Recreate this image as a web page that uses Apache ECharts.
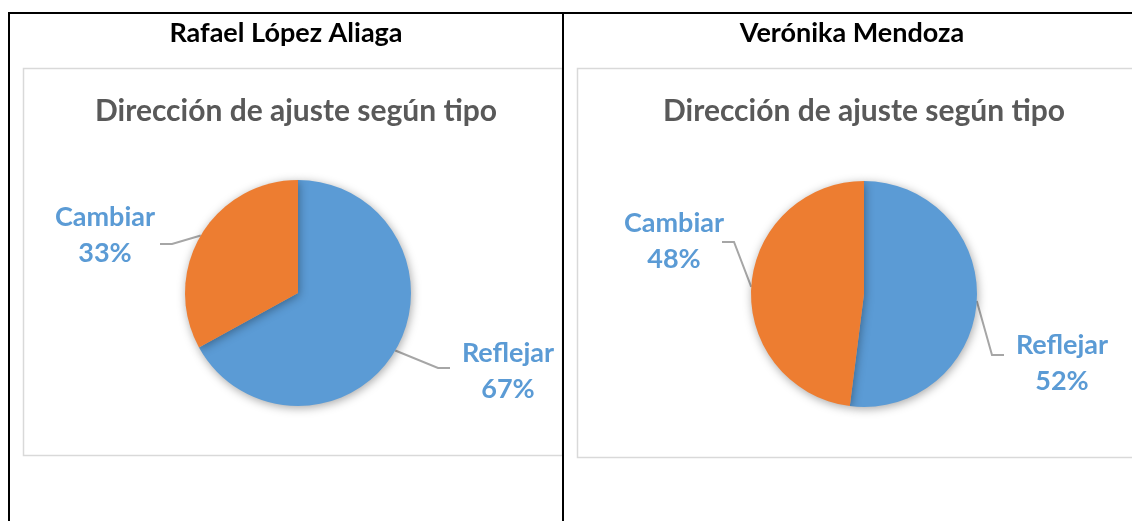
<!DOCTYPE html>
<html>
<head>
<meta charset="utf-8">
<script src="https://cdn.jsdelivr.net/npm/echarts@6/dist/echarts.min.js"></script>
<style>
  html, body { margin: 0; padding: 0; background: #ffffff; }
  #chart { width: 1132px; height: 521px; }
</style>
</head>
<body>
<div id="chart"></div>
<script>
// ---- data ----
const candidates = ['Rafael López Aliaga', 'Verónika Mendoza'];
const chartTitle = 'Dirección de ajuste según tipo';
const categories = ['Reflejar', 'Cambiar'];
const lopezAliagaValues = [67, 33];
const mendozaValues = [52, 48];

// ---- layout ----
const FONT = 'Lato, "Open Sans", sans-serif';
const BLUE = '#5B9BD5';
const ORANGE = '#ED7D31';
const panels = [
  { cx: 298, cy: 293, r: 113, headX: 281, titleX: 291,
    labels: [ { pos: [508, 371], end: [450, 368], dir: -1 },   // Reflejar
              { pos: [105, 235], end: [160, 244], dir: 1 } ] }, // Cambiar
  { cx: 864, cy: 294, r: 113, headX: 847, titleX: 859,
    labels: [ { pos: [1062, 363], end: [1004, 355], dir: -1 },
              { pos: [674, 241], end: [722, 242], dir: 1 } ] }
];
const seriesValues = [lopezAliagaValues, mendozaValues];

const chart = echarts.init(document.getElementById('chart'), null, { renderer: 'canvas' });

const titles = [];
panels.forEach((p, i) => {
  titles.push({
    text: candidates[i], left: p.headX, top: 15, textAlign: 'center',
    textStyle: { fontFamily: FONT, fontWeight: 'bold', fontSize: 27, color: '#000000' }
  });
  titles.push({
    text: chartTitle, left: p.titleX, top: 91, textAlign: 'center',
    textStyle: { fontFamily: FONT, fontWeight: 'bold', fontSize: 30, color: '#595959' }
  });
});

const series = panels.map((p, i) => ({
  type: 'pie',
  center: [p.cx, p.cy],
  radius: [0, p.r],
  startAngle: 90,
  clockwise: true,
  silent: true,
  animation: false,
  data: categories.map((c, k) => ({
    name: c, value: seriesValues[i][k],
    itemStyle: { color: k === 0 ? BLUE : ORANGE }
  })),
  itemStyle: {
    borderWidth: 0,
    shadowBlur: 10, shadowColor: 'rgba(0,0,0,0.35)', shadowOffsetX: 1, shadowOffsetY: 2
  },
  label: {
    show: true,
    position: 'outside',
    formatter: '{b}\n{c}%',
    fontFamily: FONT, fontWeight: 'bold', fontSize: 27, lineHeight: 36,
    color: BLUE, align: 'center'
  },
  labelLine: { show: true, lineStyle: { color: '#A6A6A6', width: 2 } },
  labelLayout: function (params) {
    const L = p.labels[params.dataIndex];
    const start = params.labelLinePoints ? params.labelLinePoints[0] : [p.cx, p.cy];
    return {
      x: L.pos[0], y: L.pos[1], align: 'center', verticalAlign: 'middle',
      labelLinePoints: [start, [L.end[0] + L.dir * 12, L.end[1]], L.end]
    };
  }
}));

chart.setOption({
  animation: false,
  backgroundColor: '#ffffff',
  title: titles,
  graphic: [
    // chart area boxes
    { type: 'rect', shape: { x: 23.5, y: 68.5, width: 539, height: 387 }, style: { fill: 'none', stroke: '#D9D9D9', lineWidth: 1.5 }, z: 1 },
    { type: 'rect', shape: { x: 577.5, y: 68.5, width: 580, height: 389 }, style: { fill: 'none', stroke: '#D9D9D9', lineWidth: 1.5 }, z: 1 },
    // table borders
    { type: 'line', shape: { x1: 8, y1: 13, x2: 1132, y2: 13 }, style: { stroke: '#000', lineWidth: 2 }, z: 5 },
    { type: 'line', shape: { x1: 9, y1: 12, x2: 9, y2: 521 }, style: { stroke: '#000', lineWidth: 2 }, z: 5 },
    { type: 'line', shape: { x1: 563, y1: 12, x2: 563, y2: 521 }, style: { stroke: '#000', lineWidth: 2 }, z: 5 }
  ],
  series: series
});
</script>
</body>
</html>
